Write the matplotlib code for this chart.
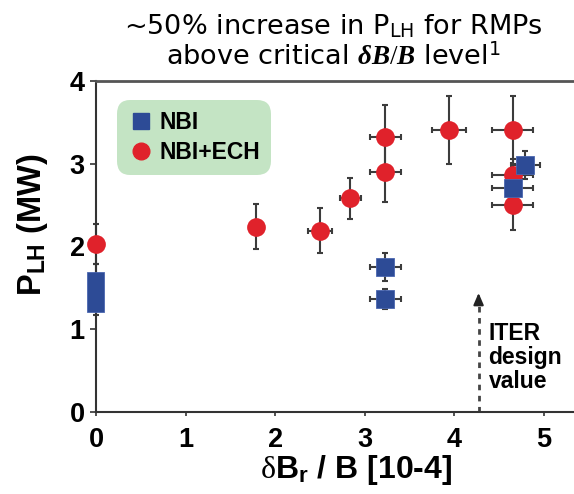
import matplotlib

matplotlib.use("Agg")

import matplotlib.pyplot as plt
from matplotlib.lines import Line2D

plt.rcParams["mathtext.fontset"] = "custom"
plt.rcParams["mathtext.rm"] = "Liberation Serif"
plt.rcParams["mathtext.it"] = "Liberation Serif:italic:bold"
plt.rcParams["mathtext.bf"] = "Liberation Sans:bold"
plt.rcParams["mathtext.sf"] = "DejaVu Sans"

RED = "#e0222b"
BLUE = "#2d4b96"
ERR = "#3c3c3c"

# NBI+ECH (red circles)
ech_x = [0.0, 1.79, 2.50, 2.84, 3.23, 3.23, 3.94, 4.65, 4.65, 4.65]
ech_y = [2.03, 2.24, 2.19, 2.58, 3.32, 2.90, 3.41, 3.41, 2.86, 2.50]
ech_yerr = [0.24, 0.27, 0.27, 0.25, 0.39, 0.36, 0.41, 0.41, 0.20, 0.30]
ech_xerr = [0.0, 0.0, 0.13, 0.12, 0.17, 0.17, 0.195, 0.23, 0.23, 0.23]

# NBI (blue squares)
nbi_x = [3.23, 3.23, 4.65, 4.79]
nbi_y = [1.75, 1.36, 2.70, 2.98]
nbi_yerr = [0.17, 0.12, 0.15, 0.17]
nbi_xerr = [0.17, 0.17, 0.23, 0.16]

# NBI range at zero field
nbi0_low, nbi0_high = 1.20, 1.69
nbi0_err_low, nbi0_err_high = 1.17, 1.79

iter_x = 4.27
iter_tip = 1.47

fig = plt.figure(figsize=(5.74, 4.94), dpi=100)
ax = fig.add_axes([0.1672, 0.1666, 0.8328, 0.6694])


def errbars(x, y, yerr, xerr=None):
    c = ax.errorbar(x, y, yerr=yerr, xerr=xerr, fmt="none", ecolor=ERR,
                    elinewidth=1.5, capsize=2.5, capthick=1.5, zorder=2)
    for art in c.get_children():
        art.set_clip_on(False)


errbars(ech_x, ech_y, ech_yerr, ech_xerr)
errbars(nbi_x, nbi_y, nbi_yerr, nbi_xerr)
mid0 = (nbi0_err_low + nbi0_err_high) / 2
errbars([0.0], [mid0], [[mid0 - nbi0_err_low], [nbi0_err_high - mid0]])

bars = ax.bar(0.0, nbi0_high - nbi0_low, bottom=nbi0_low, width=0.19, color=BLUE,
              edgecolor="#4a66b0", linewidth=0.6, zorder=3)
for b in bars:
    b.set_clip_on(False)
ax.plot(ech_x, ech_y, "o", color=RED, markersize=13.5, markeredgewidth=0, zorder=3,
        clip_on=False)
ax.plot(nbi_x, nbi_y, "s", color=BLUE, markersize=12.5, markeredgecolor="#4a66b0",
        markeredgewidth=0.6, zorder=4, clip_on=False)

# ITER design value
ax.plot([iter_x, iter_x], [0, iter_tip - 0.12], color="#444444", lw=2,
        linestyle=(0, (2, 2)), zorder=1)
ax.annotate("", xy=(iter_x, iter_tip), xytext=(iter_x, iter_tip - 0.2),
            arrowprops=dict(arrowstyle="-|>,head_length=0.7,head_width=0.3",
                            color="#222222", lw=1.5))
ax.text(iter_x + 0.11, 0.66, "ITER\ndesign\nvalue", fontsize=16.5, fontweight="bold",
        family="Liberation Sans", va="center", ha="left", linespacing=1.05)

ax.set_xlim(0, 5.335)
ax.set_ylim(0, 4)
ax.set_xticks([0, 1, 2, 3, 4, 5])
ax.set_yticks([0, 1, 2, 3, 4])
for lab in ax.get_xticklabels() + ax.get_yticklabels():
    lab.set_fontfamily("Liberation Sans")
    lab.set_fontweight("bold")
    lab.set_fontsize(19.5)
ax.tick_params(axis="x", length=3, width=1.2, color="#333333", pad=8)
ax.tick_params(axis="y", length=4, width=1.2, color="#333333", pad=4)

ax.spines["right"].set_visible(False)
for side in ["left", "bottom"]:
    ax.spines[side].set_color("#333333")
    ax.spines[side].set_linewidth(1.5)
ax.spines["top"].set_color("#555555")
ax.spines["top"].set_linewidth(2.0)

ax.set_xlabel(r"$\mathrm{\delta}$B$_\mathbf{r}$ / B [10-4]", fontsize=23,
              fontweight="bold", family="Liberation Sans")
ax.xaxis.set_label_coords(0.545, -0.125)
ax.set_ylabel(r"P$_\mathbf{LH}$ (MW)", fontsize=23.5, fontweight="bold",
              family="Liberation Sans")
ax.yaxis.set_label_coords(-0.097, 0.565)

fig.text(0.58, 0.975,
         "~50% increase in P$_\\mathsf{LH}$ for RMPs\n"
         "above critical $\\delta B/B$ level$^\\mathsf{1}$",
         fontsize=19.5, family="DejaVu Sans", ha="center", va="top",
         linespacing=1.15)

handles = [
    Line2D([], [], marker="s", color=BLUE, linestyle="none", markersize=12),
    Line2D([], [], marker="o", color=RED, linestyle="none", markersize=12),
]
leg = ax.legend(handles, ["NBI", "NBI+ECH"], loc="upper left",
                bbox_to_anchor=(0.02, 0.975), frameon=True, fancybox=True,
                facecolor="#c4e4c4", edgecolor="none", framealpha=1,
                handletextpad=0.2, handlelength=1.2, borderpad=0.45,
                labelspacing=0.3,
                prop={"family": "Liberation Sans", "weight": "bold", "size": 16.5})
leg.get_frame().set_boxstyle("round,pad=0.02,rounding_size=0.6")

fig.savefig("out.png", dpi=100)
